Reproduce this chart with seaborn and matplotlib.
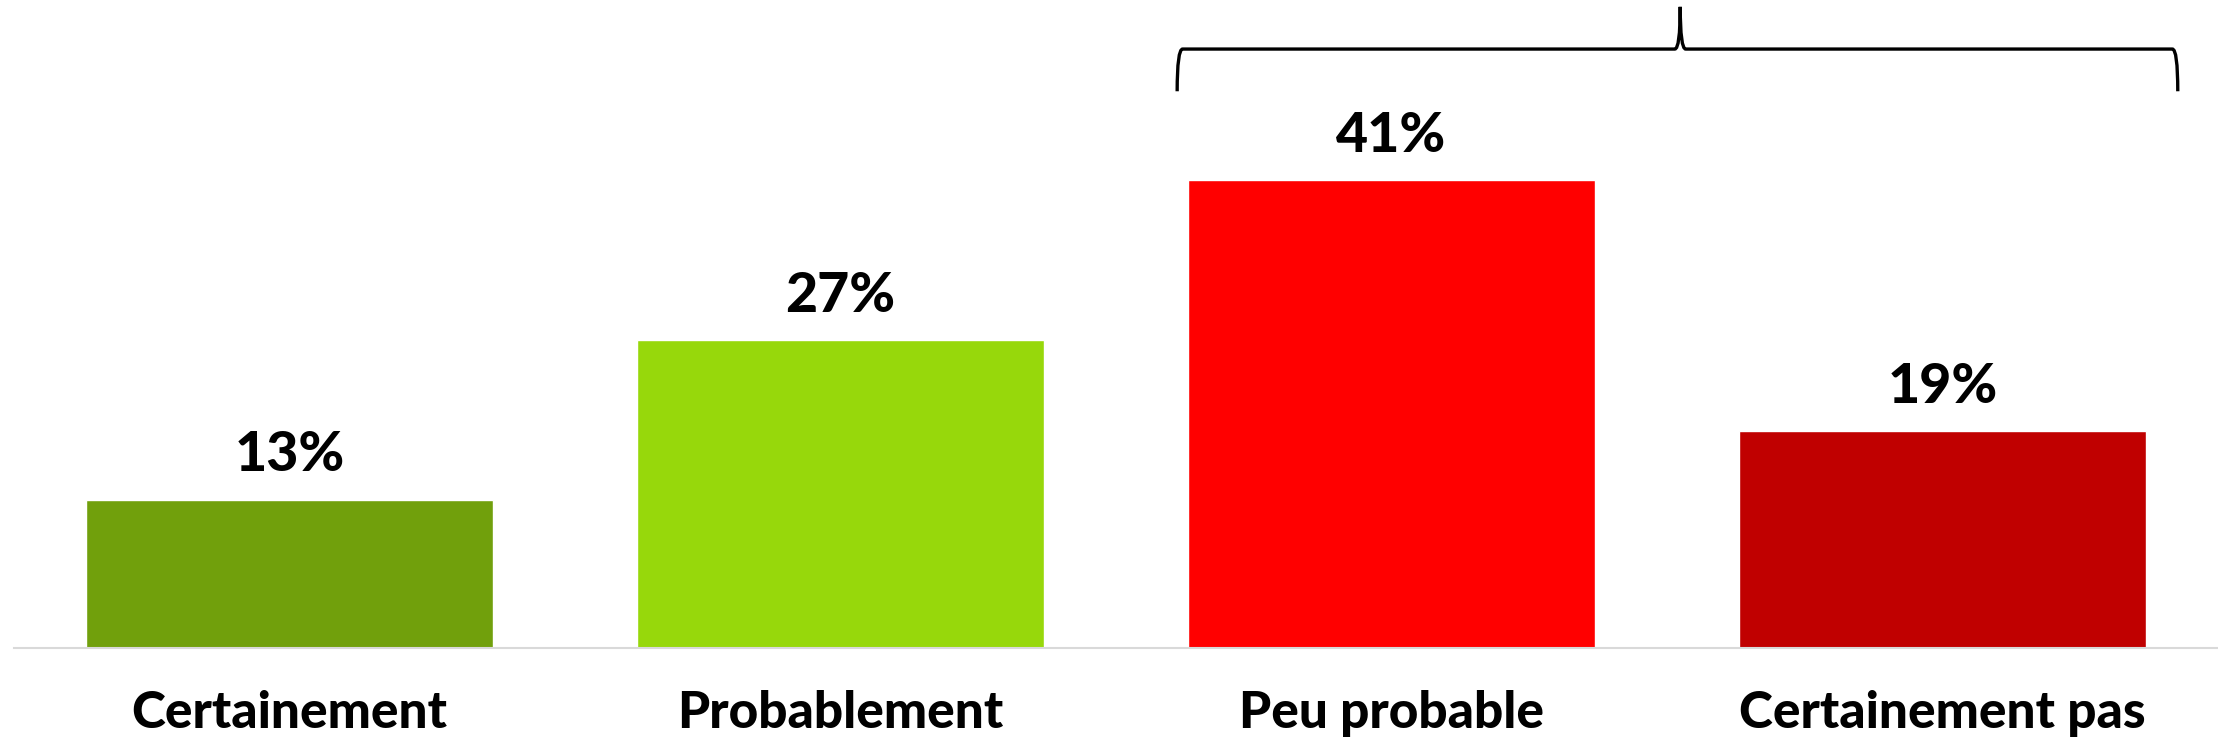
import matplotlib
matplotlib.use('Agg')
import matplotlib.pyplot as plt
import seaborn as sns
import pandas as pd
from matplotlib.path import Path
from matplotlib.patches import PathPatch

categories = ['Certainement', 'Probablement', 'Peu probable', 'Certainement pas']
values = [13, 27, 41, 19]
colors = ['#71a00c', '#97d80b', '#ff0000', '#c00000']

sns.set_theme(style='white')
plt.rcParams['font.family'] = ['Lato', 'DejaVu Sans']

df = pd.DataFrame({'cat': categories, 'val': values})

fig = plt.figure(figsize=(22.18, 7.4), dpi=100)
ax = fig.add_axes([14 / 2218, 92 / 740, 1 - 14 / 2218, 648 / 740])

sns.barplot(data=df, x='cat', y='val', hue='cat', palette=colors, width=0.74,
            legend=False, ax=ax, saturation=1)

ax.set_xlim(-0.5, 3.5)
ax.set_ylim(0, 56.8)

for i, v in enumerate(values):
    ax.annotate(f'{v}%', (i, v), xytext=(0, 14), textcoords='offset points',
                ha='center', va='bottom', fontsize=40, fontweight='black', color='black')

# brace over the last two bars
x0, xm, x1 = 1.611, 2.524, 3.427
yb, yh, yt = 48.8, 52.5, 56.2
verts = [(x0, yb), (x0, yh), (x0 + 0.01, yh),
         (xm - 0.01, yh), (xm, yh), (xm, yt),
         (xm, yh), (xm + 0.01, yh),
         (x1 - 0.01, yh), (x1, yh), (x1, yb)]
codes = [Path.MOVETO, Path.CURVE3, Path.CURVE3,
         Path.LINETO, Path.CURVE3, Path.CURVE3,
         Path.CURVE3, Path.CURVE3,
         Path.LINETO, Path.CURVE3, Path.CURVE3]
ax.add_patch(PathPatch(Path(verts, codes), fill=False, lw=2.4, color='black', clip_on=False))

ax.set_xlabel('')
ax.set_ylabel('')
ax.set_yticks([])
ax.tick_params(axis='x', length=0, pad=30)
for lab in ax.get_xticklabels():
    lab.set_fontsize(37)
    lab.set_fontweight('black')
    lab.set_color('black')

for s in ['top', 'right', 'left']:
    ax.spines[s].set_visible(False)
ax.spines['bottom'].set_color('#d9d9d9')
ax.spines['bottom'].set_linewidth(1.5)

fig.savefig('out.png', dpi=100, facecolor='white')
